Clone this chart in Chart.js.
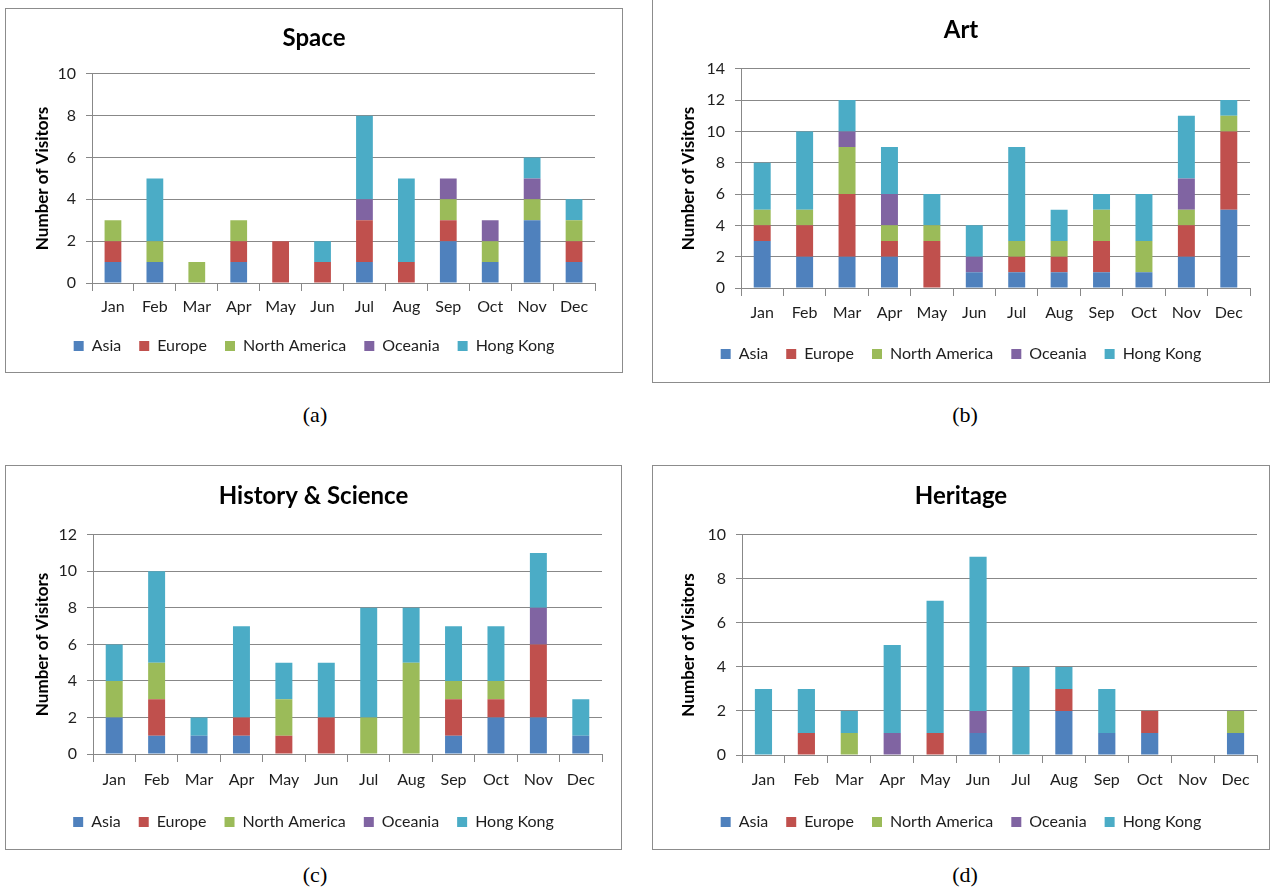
<!DOCTYPE html>
<html><head><meta charset="utf-8">
<script src="https://cdn.jsdelivr.net/npm/chart.js@4"></script>
<style>
body{margin:0;background:#fff;width:1275px;height:888px;position:relative;overflow:hidden;font-family:Lato}
.box{position:absolute;border:1px solid #8c8c8c;background:#fff;box-sizing:border-box}
.box canvas{position:absolute;left:0;top:0}
.cap{position:absolute;font-family:"Liberation Serif";font-size:22px;color:#000;transform:translate(-50%,-50%);white-space:nowrap}
</style></head><body>
<div class="box" style="left:5px;top:8px;width:618px;height:365px"><canvas id="cA" width="616" height="363"></canvas></div>
<div class="box" style="left:652px;top:-2px;width:618px;height:385px"><canvas id="cB" width="616" height="383"></canvas></div>
<div class="box" style="left:5px;top:465px;width:617px;height:385px"><canvas id="cC" width="615" height="383"></canvas></div>
<div class="box" style="left:652px;top:465px;width:618px;height:385px"><canvas id="cD" width="616" height="383"></canvas></div>
<div class="cap" style="left:315px;top:415px">(a)</div>
<div class="cap" style="left:965px;top:415px">(b)</div>
<div class="cap" style="left:315px;top:875px">(c)</div>
<div class="cap" style="left:965px;top:875px">(d)</div>
<script>
const months = ['Jan','Feb','Mar','Apr','May','Jun','Jul','Aug','Sep','Oct','Nov','Dec'];
const regionNames = ['Asia','Europe','North America','Oceania','Hong Kong'];
const yTicks = [0,2,4,6,8,10,12,14];

// Space
const spaceAsia    = [1,1,0,1,0,0,1,0,2,1,3,1];
const spaceEurope  = [1,0,0,1,2,1,2,1,1,0,0,1];
const spaceNA      = [1,1,1,1,0,0,0,0,1,1,1,1];
const spaceOceania = [0,0,0,0,0,0,1,0,1,1,1,0];
const spaceHK      = [0,3,0,0,0,1,4,4,0,0,1,1];
// Art
const artAsia    = [3,2,2,2,0,1,1,1,1,1,2,5];
const artEurope  = [1,2,4,1,3,0,1,1,2,0,2,5];
const artNA      = [1,1,3,1,1,0,1,1,2,2,1,1];
const artOceania = [0,0,1,2,0,1,0,0,0,0,2,0];
const artHK      = [3,5,2,3,2,2,6,2,1,3,4,1];
// History & Science
const histAsia    = [2,1,1,1,0,0,0,0,1,2,2,1];
const histEurope  = [0,2,0,1,1,2,0,0,2,1,4,0];
const histNA      = [2,2,0,0,2,0,2,5,1,1,0,0];
const histOceania = [0,0,0,0,0,0,0,0,0,0,2,0];
const histHK      = [2,5,1,5,2,3,6,3,3,3,3,2];
// Heritage
const herAsia    = [0,0,0,0,0,1,0,2,1,1,0,1];
const herEurope  = [0,1,0,0,1,0,0,1,0,1,0,0];
const herNA      = [0,0,1,0,0,0,0,0,0,0,0,1];
const herOceania = [0,0,0,1,0,1,0,0,0,0,0,0];
const herHK      = [3,2,1,4,6,7,4,1,2,0,0,0];

const regionColors = ['#4F81BD','#C0504D','#9BBB59','#8064A2','#4BACC6'];
const gridColor = '#888888';
const textColor = '#1e1e1e';
const FONT = 'Lato';

const panels = [
  {id:'cA', title:'Space', ymax:10, series:[spaceAsia,spaceEurope,spaceNA,spaceOceania,spaceHK],
   yW:86, padR:27, tTop:15, tBot:21, xH:37, xPad:6, padB:8, yTitlePad:26},
  {id:'cB', title:'Art', ymax:14, series:[artAsia,artEurope,artNA,artOceania,artHK],
   yW:88, padR:19, tTop:17, tBot:24, xH:40, xPad:7, padB:10, yTitlePad:25},
  {id:'cC', title:'History & Science', ymax:12, series:[histAsia,histEurope,histNA,histOceania,histHK],
   yW:87, padR:19, tTop:16, tBot:24, xH:42, xPad:8, padB:9, yTitlePad:26},
  {id:'cD', title:'Heritage', ymax:10, series:[herAsia,herEurope,herNA,herOceania,herHK],
   yW:89, padR:12, tTop:16, tBot:24, xH:41, xPad:7, padB:9, yTitlePad:25}
];

panels.forEach(p => {
  new Chart(document.getElementById(p.id), {
    type: 'bar',
    data: {
      labels: months,
      datasets: regionNames.map((n, i) => ({
        label: n, data: p.series[i], backgroundColor: regionColors[i],
        borderWidth: 0, barPercentage: 0.4, categoryPercentage: 1
      }))
    },
    options: {
      responsive: false, animation: false, devicePixelRatio: 1,
      layout: {padding: {left: 0, right: 0, top: 0, bottom: p.padB}},
      plugins: {
        title: {display: true, text: p.title, color: '#000',
          font: {family: FONT, size: 24, weight: 'bold'},
          padding: {top: p.tTop, bottom: p.tBot}},
        legend: {position: 'bottom',
          labels: {boxWidth: 10, boxHeight: 10, padding: 18, color: textColor,
            font: {family: FONT, size: 16}}},
        tooltip: {enabled: false}
      },
      scales: {
        x: {stacked: true,
          grid: {display: true, drawOnChartArea: false, drawTicks: true, tickLength: 8, color: gridColor, offset: true},
          border: {display: true, color: gridColor},
          ticks: {color: textColor, font: {family: FONT, size: 16}, padding: p.xPad, maxRotation: 0, autoSkip: false},
          afterFit: s => { s.height = p.xH; }},
        y: {stacked: true, min: 0, max: p.ymax,
          afterBuildTicks: s => { s.ticks = yTicks.filter(v => v <= p.ymax).map(v => ({value: v})); },
          ticks: {color: textColor, font: {family: FONT, size: 16}, padding: 10},
          grid: {color: gridColor, tickLength: 6},
          border: {display: true, color: gridColor},
          title: {display: true, text: 'Number of Visitors', color: '#000',
            font: {family: FONT, size: 17, weight: 'bold'}, padding: {top: p.yTitlePad, bottom: 0}},
          afterFit: s => { s.width = p.yW; }},
        yR: {position: 'right', display: true,
          grid: {display: false}, border: {display: false}, ticks: {display: false},
          afterFit: s => { s.width = p.padR; }}
      }
    }
  });
});
</script>
</body></html>
